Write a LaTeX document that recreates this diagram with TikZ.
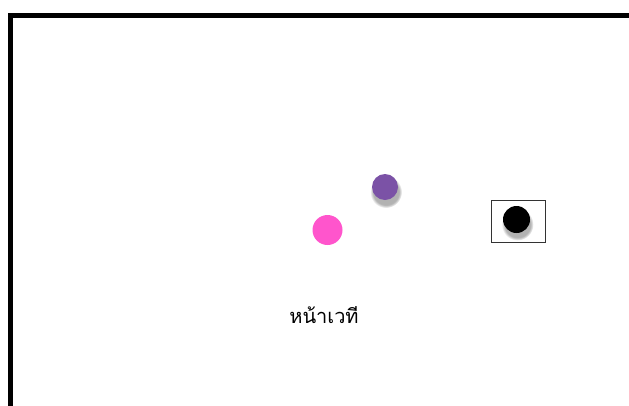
\documentclass[tikz,border=0pt]{standalone}
\usepackage{fontspec}
\newfontfamily\thaifont[Script=Thai]{Loma}
\usetikzlibrary{fadings}
\definecolor{purp}{HTML}{7B52A6}
\definecolor{pinkc}{HTML}{FF55CC}
\tikzset{
  frame/.style={line width=5pt, line cap=butt},
  dot/.style={circle, inner sep=0pt},
  softshadow/.style={fill=black, opacity=0.3, path fading=circle with fuzzy edge 20 percent},
}
\begin{document}
\begin{tikzpicture}[x=1pt,y=-1pt]
\useasboundingbox (0,0) rectangle (629,405);
\coordinate (fbl) at (10.5,410);
\coordinate (ftl) at (10.5,15.5);
\coordinate (ftr) at (640,15.5);
\draw[frame] (fbl) -- (ftl) -- (ftr);
\fill[softshadow] (386,192) circle (16pt);
\node[dot, fill=purp, minimum size=26pt] (purple) at (385,187) {};
\node[dot, fill=pinkc, minimum size=30pt] (pink) at (327.5,230) {};
\node[draw=black!80, line width=1pt, minimum width=54pt, minimum height=42pt, inner sep=0pt] (box) at (518,221) {};
\fill[softshadow] (517.5,224.5) circle (16pt);
\node[dot, fill=black, minimum size=27pt] (blackdot) at (516.5,219.5) {};
\node[font=\thaifont\fontsize{20}{24}\selectfont] (label) at (324,315) {หน้าเวที};
\end{tikzpicture}
\end{document}
